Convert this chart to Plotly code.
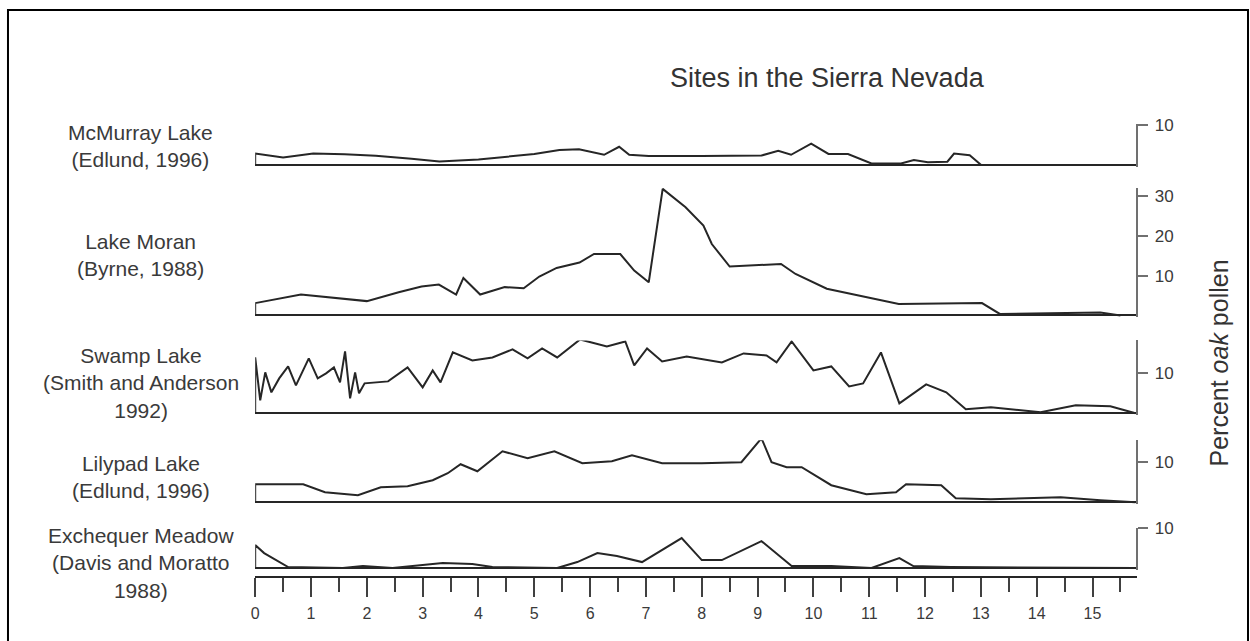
import plotly.graph_objects as go

# Age axis (thousands of years) and oak pollen percentages for each site
mcmurray_age = [0, 0.5, 1.04, 1.6, 2.16, 2.8, 3.3, 4.0, 4.55, 5.0, 5.45, 5.8, 6.25, 6.52, 6.7, 7.05, 8.0,
                9.07, 9.37, 9.6, 9.96, 10.27, 10.62, 11.04, 11.57, 11.8, 12.05, 12.4, 12.52, 12.8, 13.0]
mcmurray_pct = [2.8, 1.8, 2.8, 2.6, 2.25, 1.5, 0.8, 1.3, 2.0, 2.7, 3.7, 3.9, 2.5, 4.5, 2.5, 2.2, 2.2,
                2.3, 3.5, 2.5, 5.3, 2.7, 2.7, 0.3, 0.3, 1.2, 0.6, 0.75, 2.8, 2.4, 0]

moran_age = [0, 0.82, 2.0, 2.57, 2.98, 3.29, 3.6, 3.73, 4.03, 4.47, 4.81, 5.09, 5.4, 5.81, 6.07, 6.54,
             6.79, 7.05, 7.3, 7.71, 8.03, 8.18, 8.5, 9.42, 9.68, 10.24, 10.81, 11.53, 13.02, 13.34, 15.14, 15.5]
moran_pct = [3.1, 5.25, 3.6, 5.8, 7.25, 7.75, 5.25, 9.4, 5.25, 7.1, 6.8, 9.75, 11.9, 13.25, 15.4, 15.4,
             11.25, 8.3, 31.7, 27.1, 22.5, 17.9, 12.25, 12.9, 10.4, 6.7, 5.0, 2.9, 3.1, 0.4, 0.75, 0]

swamp_age = [0, 0.09, 0.18, 0.29, 0.43, 0.59, 0.73, 0.96, 1.12, 1.27, 1.41, 1.52, 1.61, 1.7, 1.79, 1.86,
             1.96, 2.38, 2.73, 3.0, 3.18, 3.32, 3.54, 3.89, 4.25, 4.61, 4.88, 5.14, 5.41, 5.82, 6.3, 6.63,
             6.79, 7.02, 7.29, 7.73, 8.36, 8.75, 9.16, 9.34, 9.61, 10.0, 10.32, 10.64, 10.89, 11.21, 11.54,
             12.02, 12.38, 12.73, 13.18, 14.07, 14.7, 15.32, 15.77]
swamp_pct = [14, 3.25, 10.25, 5.25, 8.75, 11.75, 7, 13.75, 8.75, 10, 11.5, 7.75, 15.5, 3.75, 10.25, 5,
             7.5, 8, 11.5, 6.5, 10.75, 7.75, 15.25, 13.25, 14, 16, 13.75, 16.25, 14, 18.5, 16.75, 18,
             12, 16.25, 13, 14.25, 12.75, 15, 14.5, 12.75, 18, 10.75, 11.75, 6.75, 7.5, 15.25, 2.5,
             7.25, 5.25, 1, 1.5, 0.25, 2, 1.75, 0]

lilypad_age = [0, 0.86, 1.25, 1.84, 2.25, 2.73, 3.18, 3.45, 3.68, 3.98, 4.43, 4.88, 5.36, 5.86, 6.39, 6.75,
               7.29, 8.0, 8.71, 9.07, 9.25, 9.52, 9.79, 10.32, 10.95, 11.48, 11.66, 12.29, 12.55, 13.18,
               14.43, 15.14, 15.77]
lilypad_pct = [4.5, 4.5, 2.5, 1.75, 3.75, 4, 5.5, 7.25, 9.5, 7.75, 12.75, 11, 12.75, 9.75, 10.25, 11.75,
               9.75, 9.75, 10, 16, 10, 8.75, 8.75, 4.25, 2, 2.5, 4.5, 4.25, 1, 0.75, 1.25, 0.5, 0]

exchequer_age = [0, 0.16, 0.59, 1.57, 1.93, 2.46, 3.0, 3.36, 3.89, 4.25, 5.41, 5.77, 6.13, 6.48, 6.93,
                 7.29, 7.64, 8.0, 8.36, 9.07, 9.61, 10.32, 11.04, 11.54, 11.79, 12.46, 15.77]
exchequer_pct = [5.75, 3.75, 0.25, 0, 0.5, 0, 0.75, 1.25, 1, 0.25, 0, 1.5, 3.75, 3, 1.5,
                 4.5, 7.5, 2, 2, 6.75, 0.5, 0.5, 0, 2.5, 0.5, 0.25, 0]

site_names = ["McMurray Lake<br>(Edlund, 1996)",
              "Lake Moran<br>(Byrne, 1988)",
              "Swamp Lake<br>(Smith and Anderson<br>1992)",
              "Lilypad Lake<br>(Edlund, 1996)",
              "Exchequer Meadow<br>(Davis and Moratto<br>1988)"]
axis_ticks = [[10], [10, 20, 30], [10], [10], [10]]
age_ticks = list(range(0, 16))

W, H = 1250, 641
X0, X1 = 252, 1137          # pixel extent of the age axis
AGE_MAX = (X1 - X0) / 56.0  # 56 px per thousand years
PX_PER_PCT = 4.0
YAX_X = 1137                # pixel position of the right-hand percent axes


def fy(py):
    """Paper y fraction for a vertical pixel position on the page."""
    return 1 - ((py - 8) / 0.9876) / H


# panel layout: (baseline pixel, top pixel, label centre pixel)
panels = [(164, 123, 145), (315, 187, 254), (413, 340, 383), (502, 440, 477), (568, 528, 563)]

series = [(mcmurray_age, mcmurray_pct), (moran_age, moran_pct), (swamp_age, swamp_pct),
          (lilypad_age, lilypad_pct), (exchequer_age, exchequer_pct)]

INK = "#262626"
AXIS = "#707070"
TXT = "#3a3a3a"

fig = go.Figure()
layout = dict(
    width=W, height=H, margin=dict(l=0, r=0, t=0, b=0),
    paper_bgcolor="white", plot_bgcolor="rgba(0,0,0,0)", showlegend=False,
    xaxis=dict(domain=[X0 / W, X1 / W], range=[0, AGE_MAX], anchor="free",
               position=fy(577), showline=True, linecolor=INK, linewidth=2,
               showgrid=False, zeroline=False, ticks="outside", ticklen=19, tickwidth=2,
               tickcolor="#404040", tickvals=age_ticks, ticklabelstandoff=3,
               tickfont=dict(family="Liberation Sans", size=16, color=TXT),
               minor=dict(dtick=0.5, tick0=0, ticks="outside", ticklen=14, tickwidth=2,
                          tickcolor="#404040", showgrid=False)),
)

annotations = []
n = len(panels)
for i, ((base, top, lab_y), (ages, pct)) in enumerate(zip(panels, series)):
    lo = -0.5
    hi = (base - top) / PX_PER_PCT
    dom = [fy(base + 2), fy(top)]
    ya = f"yaxis{i + 1}" if i else "yaxis"
    yo = f"yaxis{i + 1 + n}"
    layout[ya] = dict(domain=dom, range=[lo, hi], anchor="free", position=YAX_X / W, side="right",
                      showline=True, linecolor=AXIS, linewidth=2, showgrid=False,
                      zeroline=True, zerolinecolor=INK, zerolinewidth=2,
                      ticks="outside", ticklen=10, tickwidth=2, tickcolor=AXIS,
                      tickvals=axis_ticks[i], ticklabelstandoff=3,
                      tickfont=dict(family="Liberation Sans", size=17, color=TXT))
    # inner half of the crossing tick marks
    layout[yo] = dict(domain=dom, range=[lo, hi], anchor="free", position=YAX_X / W, side="right",
                      overlaying="y" if i == 0 else f"y{i + 1}",
                      showline=False, showgrid=False, zeroline=False,
                      ticks="inside", ticklen=9, tickwidth=2, tickcolor=AXIS,
                      tickvals=axis_ticks[i], showticklabels=False)
    yref = "y" if i == 0 else f"y{i + 1}"
    # profile closed down to the baseline at the core top
    fig.add_trace(go.Scatter(x=[ages[0]] + ages, y=[0] + pct, mode="lines",
                             line=dict(color=INK, width=2), yaxis=yref, hoverinfo="skip"))
    annotations.append(dict(text=site_names[i], xref="paper", yref="paper",
                            x=137 / W, y=fy(lab_y), xanchor="center", yanchor="middle",
                            showarrow=False, align="center",
                            font=dict(family="Liberation Sans", size=21, color=TXT)))

annotations.append(dict(text="Sites in the Sierra Nevada", xref="paper", yref="paper",
                        x=826 / W, y=fy(77), xanchor="center", yanchor="middle",
                        showarrow=False,
                        font=dict(family="Liberation Sans", size=27, color="#333333")))
annotations.append(dict(text="Percent <i>oak</i> pollen", xref="paper", yref="paper",
                        x=1219 / W, y=fy(363), xanchor="center", yanchor="middle",
                        showarrow=False, textangle=-90,
                        font=dict(family="Liberation Sans", size=25, color="#333333")))
layout["annotations"] = annotations
layout["shapes"] = [dict(type="rect", xref="paper", yref="paper",
                         x0=4 / W, x1=1248 / W, y0=-0.05, y1=1 - 1 / H,
                         line=dict(color="black", width=2))]

fig.update_layout(**layout)
fig.write_html("out.html")
